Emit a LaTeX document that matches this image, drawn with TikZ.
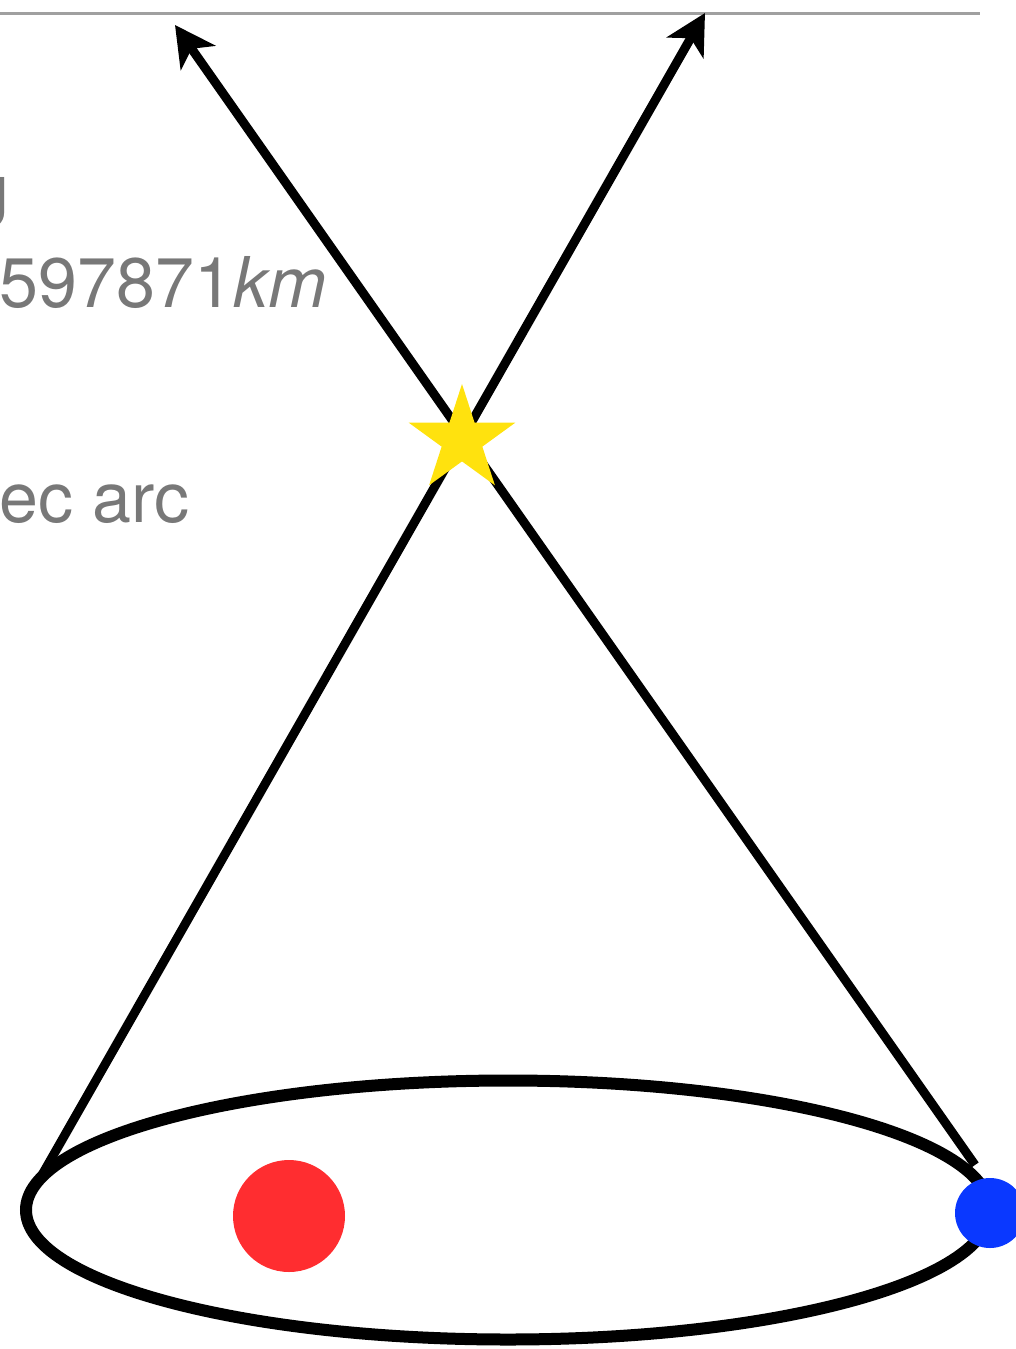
\documentclass[tikz,border=0pt]{standalone}
\usepackage{fontspec}
\setmainfont{TeX Gyre Heros}
\usepackage{xcolor}
\usetikzlibrary{arrows.meta,shapes.geometric}
\definecolor{clrSun}{RGB}{255,45,48}
\definecolor{clrEarth}{RGB}{10,56,255}
\definecolor{clrStar}{RGB}{255,226,14}
\definecolor{clrNote}{RGB}{120,120,120}
\definecolor{clrRule}{RGB}{160,160,160}
\tikzset{
  sightline/.style={-{Stealth[length=40pt,width=42pt,inset=11pt]},
    line width=9pt,draw=black},
  note/.style={font=\fontsize{70}{80}\selectfont,text=clrNote,
    anchor=base east,inner sep=0pt},
  body/.style={circle,inner sep=0pt,draw=none}
}

\begin{document}
\begin{tikzpicture}[x=1pt,y=-1pt]
  \useasboundingbox (0,0) rectangle (1015,1349);

  % rule at the top
  \draw[clrRule,line width=3pt] (0,13) -- (980,13);

  % notes, cut off at the left edge
  \node[note] (au) at (10,228) {1 AU};
  \node[note] (km) at (327,307) {= 149597871\textit{km}};
  \node[note] (arc) at (190,522) {1 sec arc};

  % orbit
  \node[draw,ellipse,line width=12pt,inner sep=0pt,
    minimum width=964pt,minimum height=259pt] (orbit) at (508,1210) {};

  % lines of sight
  \coordinate (left-start) at (38,1182);
  \coordinate (right-start) at (975,1165);
  \coordinate (left-tip) at (175,25);
  \coordinate (right-tip) at (705,13);
  \draw[sightline] (right-start) -- (left-tip);
  \draw[sightline] (left-start) -- (right-tip);

  % star, sun and earth
  \node[star,star points=5,star point ratio=2.618,fill=clrStar,
    inner sep=0pt,minimum size=112pt] (star) at (462,440) {};
  \node[body,fill=clrSun,minimum size=112pt] (sun) at (289,1216) {};
  \node[body,fill=clrEarth,minimum size=70pt] (earth) at (990,1213) {};
\end{tikzpicture}
\end{document}
